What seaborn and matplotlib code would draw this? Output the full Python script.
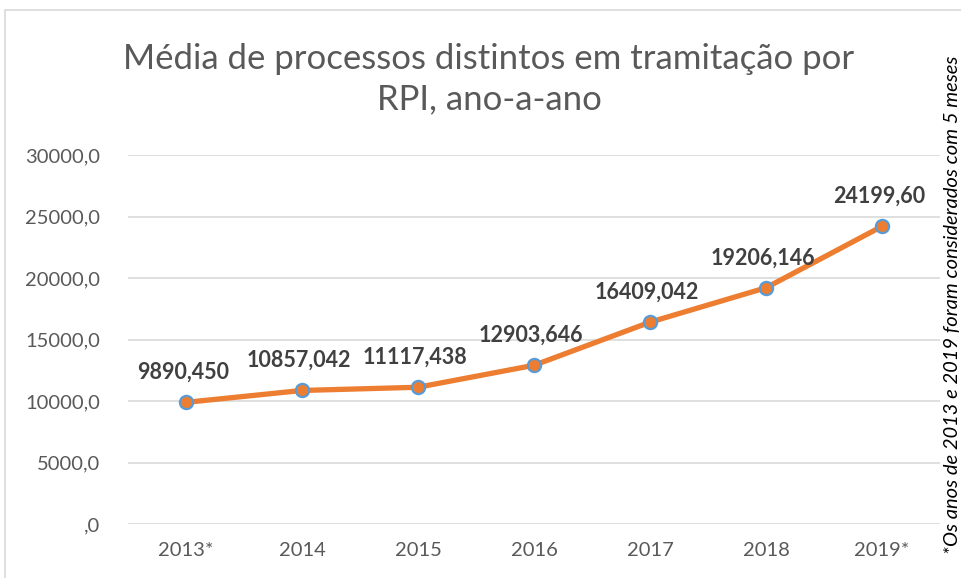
import numpy as np
import pandas as pd
import seaborn as sns
import matplotlib.pyplot as plt
from matplotlib.patches import Rectangle

# dados
anos = ["2013*", "2014", "2015", "2016", "2017", "2018", "2019*"]
media = [9890.450, 10857.042, 11117.438, 12903.646, 16409.042, 19206.146, 24199.60]
rotulos = ["9890,450", "10857,042", "11117,438", "12903,646", "16409,042", "19206,146", "24199,60"]
yticks = [0, 5000, 10000, 15000, 20000, 25000, 30000]
ytick_labels = [",0", "5000,0", "10000,0", "15000,0", "20000,0", "25000,0", "30000,0"]

df = pd.DataFrame({"ano": anos, "media": media})

sns.set_style("white")
plt.rcParams["font.family"] = ["Lato", "DejaVu Sans"]

fig = plt.figure(figsize=(9.61, 5.78), dpi=100)
ax = fig.add_axes([128 / 961, 1 - 524 / 578, (940 - 128) / 961, (524 - 155) / 578])

# moldura do gráfico
fig.patches.append(Rectangle((5 / 961, -0.1), 1.2, 1 - 10 / 578 + 0.1,
                             transform=fig.transFigure, fill=False,
                             edgecolor="#D9D9D9", linewidth=1.2))

sns.lineplot(data=df, x="ano", y="media", ax=ax, sort=False,
             color="#ED7D31", linewidth=3.8, marker="o", markersize=9.5,
             markerfacecolor="#ED7D31", markeredgecolor="#5B9BD5",
             markeredgewidth=1.6)

ax.set_xlim(-0.5, len(anos) - 0.5)
ax.set_ylim(0, 30000)
ax.set_yticks(yticks)
ax.set_yticklabels(ytick_labels)
ax.yaxis.grid(True, color="#D9D9D9", linewidth=1.2)
ax.set_axisbelow(True)
for s in ax.spines.values():
    s.set_visible(False)
ax.tick_params(axis="both", length=0, labelsize=14.5, labelcolor="#595959")
ax.tick_params(axis="y", pad=20)
ax.tick_params(axis="x", pad=13)
ax.set_xlabel("")
ax.set_ylabel("")

for i, (v, r) in enumerate(zip(media, rotulos)):
    ax.annotate(r, (i, v), xytext=(-2, 14), textcoords="offset points",
                ha="center", va="bottom", fontsize=15.5, fontweight="bold",
                color="#404040")

fig.text(489 / 961, 1 - 79 / 578,
         "Média de processos distintos em tramitação por\nRPI, ano-a-ano",
         ha="center", va="center", fontsize=25, color="#595959", linespacing=1.3)

fig.text(952 / 961, 1 - 305 / 578,
         "*Os anos de 2013 e 2019 foram considerados com 5 meses",
         rotation=90, ha="center", va="center", fontsize=14.5, style="italic",
         color="black")

plt.savefig("out.png", dpi=100)
plt.close()
